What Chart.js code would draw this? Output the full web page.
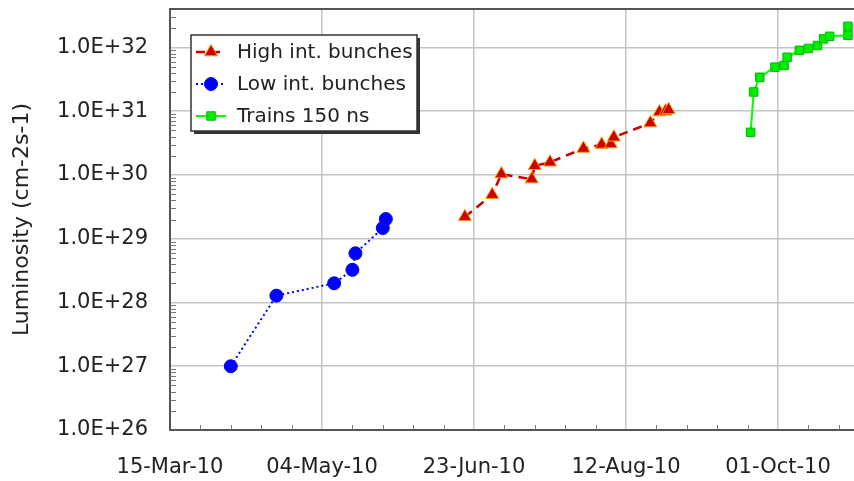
<!DOCTYPE html>
<html>
  <head>
    <title>Luminosity</title>
    <script src="https://cdn.jsdelivr.net/npm/chart.js"></script>
    <style>
      body {
        margin: 0;
        background: #fff;
      }
      canvas {
        display: block;
      }
    </style>
  </head>
  <body>
    <canvas id="lumiChart" width="854" height="481"></canvas>

    <script>
      // x axis: days counted from this date, one label every 50 days
      const axisStart = "2010-03-15";
      const axisDays = 225;
      const labelStep = 50;
      const minorStep = 10;

      // y axis range (log)
      const yMin = 1e26;
      const yMax = 4e32;

      // High intensity bunches
      const highDates = [
        "2010-06-20", "2010-06-29", "2010-07-02", "2010-07-12", "2010-07-13",
        "2010-07-18", "2010-07-29", "2010-08-04", "2010-08-07", "2010-08-08",
        "2010-08-20", "2010-08-23", "2010-08-25", "2010-08-26"
      ];
      const highLumi = [
        2.2e29, 4.9e29, 1.03e30, 8.6e29, 1.39e30,
        1.58e30, 2.6e30, 3.0e30, 3.05e30, 3.9e30,
        6.5e30, 9.7e30, 1.0e31, 1.05e31
      ];

      // Low intensity bunches
      const lowDates = [
        "2010-04-04", "2010-04-19", "2010-05-08", "2010-05-14",
        "2010-05-15", "2010-05-24", "2010-05-25"
      ];
      const lowLumi = [1.0e27, 1.28e28, 2.0e28, 3.25e28, 5.9e28, 1.47e29, 2.03e29];

      // Trains 150 ns
      const trainDates = [
        "2010-09-22", "2010-09-23", "2010-09-25", "2010-09-30", "2010-10-03",
        "2010-10-04", "2010-10-08", "2010-10-11", "2010-10-14", "2010-10-16",
        "2010-10-18", "2010-10-24", "2010-10-24"
      ];
      const trainLumi = [
        4.65e30, 2.0e31, 3.4e31, 4.9e31, 5.2e31,
        7.0e31, 9.0e31, 9.6e31, 1.07e32, 1.36e32,
        1.49e32, 1.55e32, 2.14e32
      ];

      const months = ["Jan", "Feb", "Mar", "Apr", "May", "Jun",
                      "Jul", "Aug", "Sep", "Oct", "Nov", "Dec"];
      const dayMs = 86400000;
      const startMs = Date.parse(axisStart);

      function toDay(s) {
        return (Date.parse(s) - startMs) / dayMs;
      }

      function dayLabel(d) {
        const dt = new Date(startMs + d * dayMs);
        const dd = String(dt.getUTCDate()).padStart(2, "0");
        const yy = String(dt.getUTCFullYear()).slice(2);
        return dd + "-" + months[dt.getUTCMonth()] + "-" + yy;
      }

      function toPoints(dates, values) {
        return dates.map((d, i) => ({ x: toDay(d), y: values[i] }));
      }

      function isDecade(v) {
        const l = Math.log10(v);
        return Math.abs(l - Math.round(l)) < 1e-6;
      }

      // small inside tick marks, top frame line and the boxed legend
      const decorations = {
        id: "decorations",
        beforeDatasetsDraw(chart) {
          const ctx = chart.ctx;
          const area = chart.chartArea;
          const xs = chart.scales.x;
          const ys = chart.scales.y;
          ctx.save();
          ctx.strokeStyle = "#777";
          ctx.lineWidth = 1;
          ctx.beginPath();
          xs.ticks.forEach((t) => {
            if (t.value % labelStep === 0) return;
            const px = Math.round(xs.getPixelForValue(t.value)) + 0.5;
            ctx.moveTo(px, area.bottom);
            ctx.lineTo(px, area.bottom - 5);
          });
          ys.ticks.forEach((t) => {
            if (isDecade(t.value)) return;
            const py = Math.round(ys.getPixelForValue(t.value)) + 0.5;
            ctx.moveTo(area.left, py);
            ctx.lineTo(area.left + 6, py);
          });
          ctx.stroke();
          ctx.strokeStyle = "#555";
          ctx.lineWidth = 2;
          ctx.beginPath();
          ctx.moveTo(area.left, area.top);
          ctx.lineTo(area.right, area.top);
          ctx.stroke();
          ctx.restore();
        },
        afterDraw(chart) {
          const ctx = chart.ctx;
          const box = { x: 191, y: 35, w: 226, h: 96 };
          ctx.save();
          ctx.fillStyle = "#333";
          ctx.fillRect(box.x + 3, box.y + 3, box.w, box.h);
          ctx.fillStyle = "#fff";
          ctx.fillRect(box.x, box.y, box.w, box.h);
          ctx.strokeStyle = "#333";
          ctx.lineWidth = 1.5;
          ctx.strokeRect(box.x, box.y, box.w, box.h);
          ctx.font = "20px 'DejaVu Sans', Verdana, sans-serif";
          ctx.textBaseline = "middle";
          chart.data.datasets.forEach((ds, i) => {
            const y = box.y + 17 + i * 32;
            ctx.strokeStyle = ds.borderColor;
            ctx.lineWidth = ds.borderWidth;
            ctx.setLineDash(ds.borderDash || []);
            ctx.beginPath();
            ctx.moveTo(box.x + 5, y);
            ctx.lineTo(box.x + 35, y);
            ctx.stroke();
            ctx.setLineDash([]);
            ctx.fillStyle = ds.pointBackgroundColor;
            ctx.strokeStyle = ds.pointBorderColor;
            ctx.lineWidth = ds.pointBorderWidth;
            Chart.helpers.drawPoint(ctx, {
              pointStyle: ds.pointStyle,
              radius: ds.pointRadius,
              rotation: 0,
              borderWidth: ds.pointBorderWidth
            }, box.x + 20, y);
            ctx.fillStyle = "#222";
            ctx.fillText(ds.label, box.x + 46, y + 1);
          });
          ctx.restore();
        }
      };

      Chart.defaults.font.family = "'DejaVu Sans', Verdana, sans-serif";
      Chart.defaults.color = "#222";

      const ctx = document.getElementById("lumiChart").getContext("2d");
      new Chart(ctx, {
        type: "line",
        data: {
          datasets: [
            {
              label: "High int. bunches",
              data: toPoints(highDates, highLumi),
              borderColor: "#cc0000",
              borderWidth: 2.5,
              borderDash: [9, 6],
              pointStyle: "triangle",
              pointRadius: 7.5,
              pointBackgroundColor: "#cc0000",
              pointBorderColor: "#ff9a00",
              pointBorderWidth: 1
            },
            {
              label: "Low int. bunches",
              data: toPoints(lowDates, lowLumi),
              borderColor: "#0000ff",
              borderWidth: 2,
              borderDash: [2, 3],
              pointStyle: "circle",
              pointRadius: 6.5,
              pointBackgroundColor: "#0000ff",
              pointBorderColor: "#0000ff",
              pointBorderWidth: 1
            },
            {
              label: "Trains 150 ns",
              data: toPoints(trainDates, trainLumi),
              borderColor: "#00ff00",
              borderWidth: 2,
              pointStyle: "rect",
              pointRadius: 6,
              pointBackgroundColor: "#00ee00",
              pointBorderColor: "#00b800",
              pointBorderWidth: 1
            }
          ]
        },
        options: {
          responsive: false,
          animation: false,
          layout: { autoPadding: false, padding: { top: 9, right: 0, left: 0, bottom: 0 } },
          plugins: {
            legend: { display: false },
            tooltip: { enabled: false }
          },
          scales: {
            x: {
              type: "linear",
              bounds: "data",
              min: 0,
              max: axisDays,
              afterBuildTicks: (scale) => {
                const t = [];
                for (let d = 0; d <= axisDays; d += minorStep) t.push({ value: d });
                scale.ticks = t;
              },
              afterFit: (scale) => {
                scale.height = 51;
                scale.paddingLeft = 0;
                scale.paddingRight = 0;
              },
              ticks: {
                autoSkip: false,
                maxRotation: 0,
                padding: 25,
                font: { size: 21 },
                callback: (v) => (v % labelStep === 0 ? dayLabel(v) : "")
              },
              grid: {
                drawTicks: false,
                lineWidth: 1.5,
                color: (c) => (c.tick && c.tick.value % labelStep === 0 ? "#c4c4c4" : "rgba(0,0,0,0)")
              },
              border: { color: "#555", width: 2 }
            },
            y: {
              type: "logarithmic",
              bounds: "data",
              min: yMin,
              max: yMax,
              afterBuildTicks: (scale) => {
                const t = [];
                for (let e = 26; e <= 32; e++) {
                  for (let m = 1; m <= 9; m++) {
                    const v = m * Math.pow(10, e);
                    if (v <= yMax * 1.0001) t.push({ value: v });
                  }
                }
                scale.ticks = t;
                scale.min = yMin;
                scale.max = yMax;
              },
              afterFit: (scale) => {
                scale.width = 170;
                scale.paddingTop = 0;
                scale.paddingBottom = 0;
              },
              title: {
                display: true,
                text: "Luminosity (cm-2s-1)",
                font: { size: 22 },
                padding: { top: 9, bottom: 0 }
              },
              ticks: {
                autoSkip: false,
                padding: 22,
                font: { size: 21 },
                callback: (v) => (isDecade(v) ? Number(v).toExponential(1).toUpperCase() : "")
              },
              grid: {
                drawTicks: false,
                lineWidth: 1.5,
                color: (c) => (c.tick && isDecade(c.tick.value) ? "#c4c4c4" : "rgba(0,0,0,0)")
              },
              border: { color: "#555", width: 2 }
            }
          }
        },
        plugins: [decorations]
      });
    </script>
  </body>
</html>
